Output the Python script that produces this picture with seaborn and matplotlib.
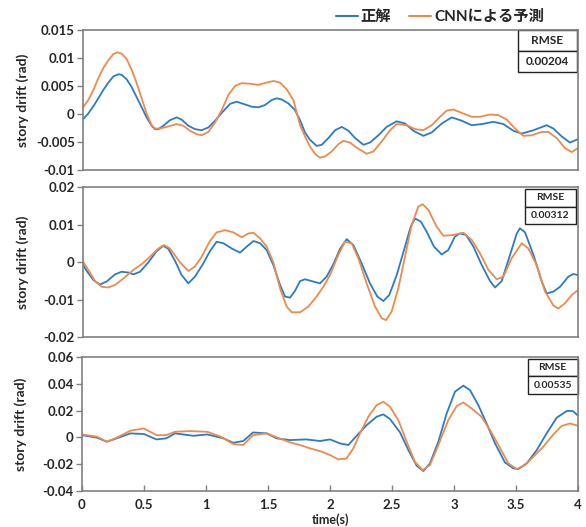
import numpy as np
import pandas as pd
import matplotlib
matplotlib.use("Agg")
import matplotlib.pyplot as plt
import seaborn as sns

# panel 1 (top)
t_true1 = [0.000, 0.043, 0.084, 0.124, 0.164, 0.205, 0.245, 0.286, 0.312, 0.353, 0.393, 0.434, 0.474,
           0.514, 0.555, 0.582, 0.609, 0.649, 0.703, 0.757, 0.797, 0.851, 0.905, 0.959, 1.013, 1.067,
           1.121, 1.188, 1.242, 1.296, 1.363, 1.417, 1.471, 1.525, 1.565, 1.605, 1.659, 1.713, 1.754,
           1.794, 1.834, 1.888, 1.929, 1.983, 2.037, 2.091, 2.145, 2.199, 2.266, 2.319, 2.387, 2.454,
           2.535, 2.602, 2.670, 2.750, 2.818, 2.899, 2.980, 3.060, 3.141, 3.222, 3.316, 3.397, 3.478,
           3.545, 3.640, 3.747, 3.801, 3.868, 3.935, 4.000]
true1 = [-0.00095, 0.0001, 0.0014, 0.0028, 0.0043, 0.0056, 0.0067, 0.0071, 0.0070, 0.0062, 0.0048,
         0.0030, 0.0012, -0.0006, -0.0021, -0.0027, -0.0027, -0.0021, -0.0011, -0.0006, -0.0010,
         -0.0021, -0.0027, -0.0029, -0.0024, -0.0012, 0.0002, 0.0018, 0.0022, 0.0018, 0.0013, 0.0012,
         0.0016, 0.0025, 0.0028, 0.0026, 0.0019, 0.0007, -0.0011, -0.0033, -0.0046, -0.0057, -0.0055,
         -0.0043, -0.0029, -0.0023, -0.0030, -0.0043, -0.0055, -0.0051, -0.0038, -0.0023, -0.0013,
         -0.0017, -0.0030, -0.0039, -0.0033, -0.0017, -0.0006, -0.0012, -0.0020, -0.0018, -0.0014,
         -0.0018, -0.0030, -0.0035, -0.0029, -0.0020, -0.0026, -0.0040, -0.0051, -0.0045]
t_pred1 = [0.000, 0.043, 0.084, 0.124, 0.164, 0.205, 0.245, 0.277, 0.312, 0.353, 0.393, 0.434, 0.474,
           0.514, 0.555, 0.582, 0.622, 0.676, 0.757, 0.811, 0.865, 0.919, 0.959, 1.013, 1.067, 1.121,
           1.175, 1.228, 1.282, 1.350, 1.417, 1.484, 1.538, 1.592, 1.646, 1.700, 1.754, 1.794, 1.834,
           1.874, 1.915, 1.955, 2.009, 2.063, 2.103, 2.157, 2.211, 2.292, 2.346, 2.414, 2.481, 2.535,
           2.616, 2.683, 2.750, 2.818, 2.885, 2.939, 2.993, 3.060, 3.141, 3.208, 3.289, 3.356, 3.424,
           3.491, 3.558, 3.626, 3.707, 3.760, 3.828, 3.895, 3.949, 4.000]
pred1 = [0.0012, 0.0025, 0.0043, 0.0064, 0.0082, 0.0096, 0.0107, 0.0110, 0.0108, 0.0098, 0.0079,
         0.0055, 0.0028, 0.0001, -0.0020, -0.0026, -0.0026, -0.0023, -0.0018, -0.0021, -0.0030,
         -0.0036, -0.0038, -0.0032, -0.0015, 0.0007, 0.0034, 0.0050, 0.0055, 0.0054, 0.0052, 0.0056,
         0.0059, 0.0056, 0.0044, 0.0025, -0.0020, -0.0040, -0.0058, -0.0071, -0.0078, -0.0076,
         -0.0067, -0.0054, -0.0048, -0.0051, -0.0060, -0.0071, -0.0067, -0.0049, -0.0029, -0.0018,
         -0.0020, -0.0027, -0.0029, -0.0020, -0.0005, 0.0006, 0.0008, 0.0002, -0.0005, -0.0005,
         -0.0001, -0.0002, -0.0010, -0.0026, -0.0039, -0.0038, -0.0032, -0.0032, -0.0043, -0.0061,
         -0.0068, -0.0061]

# panel 2 (middle)
t_true2 = [0.000, 0.035, 0.084, 0.137, 0.191, 0.259, 0.312, 0.366, 0.407, 0.461, 0.528, 0.595, 0.649,
           0.690, 0.744, 0.797, 0.851, 0.905, 0.972, 1.026, 1.080, 1.134, 1.202, 1.269, 1.323, 1.377,
           1.431, 1.484, 1.538, 1.592, 1.632, 1.673, 1.713, 1.754, 1.794, 1.848, 1.915, 1.969, 2.023,
           2.077, 2.131, 2.185, 2.252, 2.319, 2.378, 2.427, 2.475, 2.535, 2.602, 2.648, 2.683, 2.729,
           2.777, 2.836, 2.899, 2.952, 3.006, 3.047, 3.095, 3.155, 3.222, 3.289, 3.330, 3.383, 3.451,
           3.505, 3.531, 3.572, 3.640, 3.707, 3.747, 3.801, 3.855, 3.922, 3.962, 4.000]
true2 = [-0.0008, -0.0026, -0.0048, -0.0060, -0.0052, -0.0033, -0.0026, -0.0028, -0.0033, -0.0026,
         -0.0001, 0.0029, 0.0043, 0.0035, 0.0003, -0.0035, -0.0057, -0.0039, -0.0004, 0.0029, 0.0054,
         0.0050, 0.0036, 0.0025, 0.0041, 0.0056, 0.0050, 0.0032, -0.0008, -0.0061, -0.0092, -0.0095,
         -0.0077, -0.0051, -0.0046, -0.0051, -0.0057, -0.0039, -0.0006, 0.0035, 0.0061, 0.0045,
         -0.0004, -0.0057, -0.0092, -0.0104, -0.0088, -0.0035, 0.0041, 0.0094, 0.0116, 0.0108, 0.0081,
         0.0041, 0.0020, 0.0032, 0.0068, 0.0076, 0.0072, 0.0041, -0.0008, -0.0051, -0.0068, -0.0051,
         0.0019, 0.0076, 0.0090, 0.0079, 0.0019, -0.0052, -0.0084, -0.0079, -0.0066, -0.0039, -0.0032,
         -0.0035]
t_pred2 = [0.000, 0.043, 0.097, 0.151, 0.205, 0.259, 0.326, 0.407, 0.474, 0.541, 0.609, 0.655, 0.703,
           0.784, 0.851, 0.905, 0.959, 1.026, 1.080, 1.148, 1.215, 1.282, 1.336, 1.377, 1.431, 1.484,
           1.538, 1.592, 1.646, 1.686, 1.754, 1.821, 1.888, 1.942, 1.996, 2.063, 2.117, 2.171, 2.225,
           2.292, 2.360, 2.414, 2.449, 2.494, 2.548, 2.602, 2.656, 2.710, 2.745, 2.791, 2.858, 2.912,
           2.993, 3.074, 3.141, 3.208, 3.276, 3.343, 3.397, 3.464, 3.545, 3.599, 3.666, 3.734, 3.801,
           3.841, 3.895, 3.949, 4.000]
pred2 = [0.0001, -0.0021, -0.0051, -0.0066, -0.0068, -0.0061, -0.0044, -0.0021, -0.0006, 0.0014,
         0.0036, 0.0045, 0.0036, -0.0001, -0.0024, -0.0012, 0.0014, 0.0056, 0.0079, 0.0085, 0.0079,
         0.0066, 0.0076, 0.0078, 0.0063, 0.0041, -0.0001, -0.0070, -0.0119, -0.0134, -0.0134, -0.0119,
         -0.0092, -0.0066, -0.0035, 0.0019, 0.0054, 0.0050, 0.0010, -0.0057, -0.0119, -0.0150,
         -0.0155, -0.0132, -0.0070, 0.0014, 0.0099, 0.0148, 0.0154, 0.0139, 0.0094, 0.0070, 0.0072,
         0.0078, 0.0059, 0.0023, -0.0021, -0.0046, -0.0039, 0.0010, 0.0050, 0.0036, -0.0008, -0.0079,
         -0.0116, -0.0124, -0.0110, -0.0088, -0.0075]

# panel 3 (bottom)
t_true3 = [0.00, 0.12, 0.20, 0.28, 0.39, 0.50, 0.60, 0.68, 0.75, 0.90, 1.01, 1.14, 1.22, 1.30, 1.38,
           1.49, 1.57, 1.677, 1.81, 1.919, 2.00, 2.081, 2.148, 2.215, 2.296, 2.376, 2.430, 2.484,
           2.565, 2.632, 2.699, 2.753, 2.806, 2.874, 2.941, 3.008, 3.075, 3.129, 3.196, 3.263, 3.331,
           3.411, 3.478, 3.519, 3.586, 3.667, 3.747, 3.828, 3.909, 3.958, 4.000]
true3 = [0.0017, -0.0002, -0.0032, -0.0007, 0.0030, 0.0025, -0.0015, -0.0007, 0.0030, 0.0012, 0.0022,
         -0.0007, -0.0040, -0.0027, 0.0037, 0.0030, -0.0007, -0.0020, -0.0015, -0.0027, -0.0015,
         -0.0045, -0.0057, 0.0012, 0.0092, 0.0154, 0.0172, 0.0137, 0.0037, -0.0095, -0.0211, -0.0251,
         -0.0194, -0.0032, 0.0179, 0.0341, 0.0386, 0.0353, 0.0241, 0.0104, -0.0045, -0.0187, -0.0231,
         -0.0236, -0.0194, -0.0095, 0.0030, 0.0147, 0.0197, 0.0197, 0.0162]
t_pred3 = [0.00, 0.12, 0.20, 0.28, 0.39, 0.50, 0.60, 0.68, 0.75, 0.87, 1.01, 1.12, 1.22, 1.30, 1.38,
           1.49, 1.60, 1.677, 1.758, 1.839, 1.919, 2.000, 2.067, 2.134, 2.188, 2.242, 2.309, 2.376,
           2.430, 2.484, 2.551, 2.618, 2.685, 2.747, 2.806, 2.874, 2.954, 3.022, 3.075, 3.142, 3.222,
           3.290, 3.358, 3.438, 3.505, 3.573, 3.653, 3.720, 3.801, 3.868, 3.935, 4.000]
pred3 = [0.0022, 0.0005, -0.0032, -0.0002, 0.0050, 0.0067, 0.0017, 0.0017, 0.0042, 0.0047, 0.0042,
         0.0005, -0.0050, -0.0057, 0.0017, 0.0030, -0.0010, -0.0037, -0.0057, -0.0082, -0.0102,
         -0.0132, -0.0164, -0.0157, -0.0082, 0.0030, 0.0154, 0.0241, 0.0266, 0.0229, 0.0129, -0.0032,
         -0.0182, -0.0244, -0.0206, -0.0057, 0.0129, 0.0234, 0.0261, 0.0216, 0.0154, 0.0055, -0.0057,
         -0.0194, -0.0236, -0.0206, -0.0132, -0.0070, 0.0022, 0.0085, 0.0104, 0.0087]

rmse_values = ["0.00204", "0.00312", "0.00535"]
y_ticks = [[-0.01, -0.005, 0, 0.005, 0.01, 0.015],
           [-0.02, -0.01, 0, 0.01, 0.02],
           [-0.04, -0.02, 0, 0.02, 0.04, 0.06]]
x_ticks = [0, 0.5, 1, 1.5, 2, 2.5, 3, 3.5, 4]
series_names = ["正解", "CNNによる予測"]
colors = {"正解": "#2b7bc9", "CNNによる予測": "#f08a4b"}

sns.set_style("white")
plt.rcParams['font.family'] = ['Lato', 'Noto Sans CJK JP', 'DejaVu Sans']
plt.rcParams['axes.unicode_minus'] = False

fig = plt.figure(figsize=(5.86, 5.27), dpi=100)
W, H = 586, 527


def add_axes_px(left, top, right, bottom):
    return fig.add_axes([left / W, 1 - bottom / H, (right - left) / W, (bottom - top) / H])


axes = [add_axes_px(83, 30, 578, 170),
        add_axes_px(83, 187, 578, 337),
        add_axes_px(82, 357, 578, 491)]

panels = [(t_true1, true1, t_pred1, pred1),
          (t_true2, true2, t_pred2, pred2),
          (t_true3, true3, t_pred3, pred3)]

# RMSE box position in axes coords, and font size
rmse_boxes = [([0.879, 0.70, 0.119, 0.30], 8.5),
              ([0.893, 0.753, 0.103, 0.233], 7.5),
              ([0.899, 0.724, 0.10, 0.261], 7.5)]

for i, ax in enumerate(axes):
    tt, yt, tp, yp = panels[i]
    df = pd.concat([
        pd.DataFrame({"time": tt, "drift": yt, "series": series_names[0]}),
        pd.DataFrame({"time": tp, "drift": yp, "series": series_names[1]}),
    ])
    sns.lineplot(data=df, x="time", y="drift", hue="series", palette=colors,
                 linewidth=1.3, ax=ax, legend=False)
    ax.set_xlim(0, 4)
    ax.set_ylim(y_ticks[i][0], y_ticks[i][-1])
    ax.set_yticks(y_ticks[i])
    ax.set_yticklabels([format(v, "g") for v in y_ticks[i]], fontweight="bold", fontsize=9.5)
    ax.set_ylabel("story drift (rad)", fontweight="bold", fontsize=10)
    ax.yaxis.set_label_coords(-0.11, 0.5)
    for sp in ax.spines.values():
        sp.set_color("#808080")
        sp.set_linewidth(1.2)
    ax.tick_params(axis="y", direction="out", length=4, width=1, color="#808080", pad=2, left=True)
    if i < 2:
        ax.set_xticks([])
        ax.set_xlabel("")
    else:
        ax.set_xticks(x_ticks)
        ax.set_xticklabels([format(v, "g") for v in x_ticks], fontweight="bold", fontsize=9.5)
        ax.tick_params(axis="x", direction="in", length=4, width=1, color="#808080", pad=6, bottom=True)
        ax.set_xlabel("time(s)", fontweight="bold", fontsize=9)
        ax.xaxis.set_label_coords(0.5, -0.17)

    bbox, fs = rmse_boxes[i]
    tab = ax.table(cellText=[["RMSE"], [rmse_values[i]]], cellLoc="center", bbox=bbox)
    tab.auto_set_font_size(False)
    for cell in tab.get_celld().values():
        cell.set_edgecolor("#222222")
        cell.set_linewidth(1.0)
        cell.set_facecolor("white")
        cell.get_text().set_fontsize(fs)
        cell.get_text().set_fontweight("bold")

handles = [plt.Line2D([], [], color=colors[n], linewidth=1.5) for n in series_names]
fig.legend(handles, series_names, loc="center", bbox_to_anchor=(440 / W, 1 - 17 / H),
           ncol=2, frameon=False, prop={"weight": "bold", "size": 11},
           handlelength=1.4, handletextpad=0.2, columnspacing=1.2)

fig.savefig("out.png", dpi=100)
